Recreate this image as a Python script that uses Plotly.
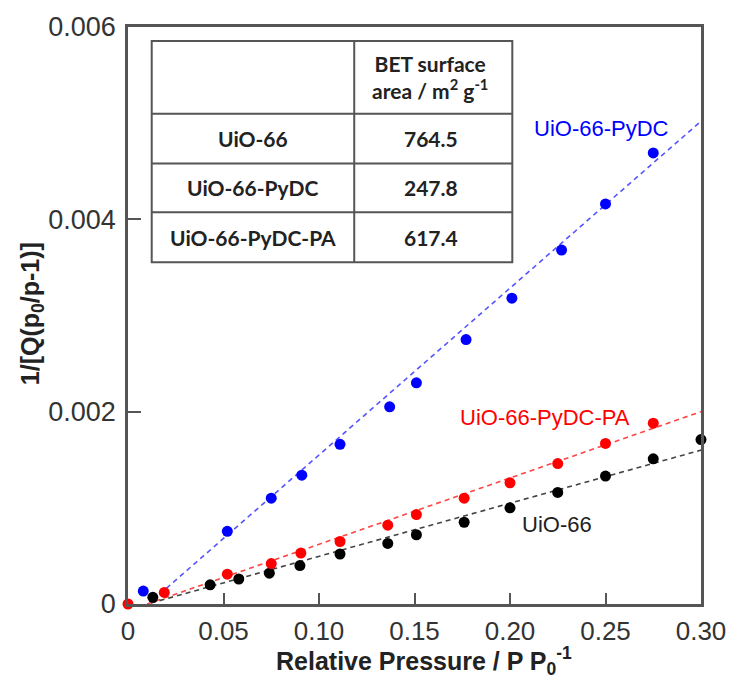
import plotly.graph_objects as go

# ---------------- data ----------------
pydc_x = [0.008, 0.052, 0.075, 0.091, 0.111, 0.137, 0.151, 0.177, 0.201, 0.227, 0.250, 0.275]
pydc_y = [0.000135, 0.000756, 0.00110, 0.00134, 0.00166, 0.00205, 0.00230, 0.00275, 0.00318, 0.00368, 0.00416, 0.00469]

pa_x = [0.0, 0.019, 0.052, 0.075, 0.0905, 0.111, 0.136, 0.151, 0.176, 0.200, 0.225, 0.250, 0.275]
pa_y = [0.0, 0.00012, 0.00031, 0.00042, 0.00053, 0.00065, 0.00082, 0.00093, 0.00110, 0.00126, 0.00146, 0.00167, 0.00188]

uio_x = [0.013, 0.043, 0.058, 0.074, 0.090, 0.111, 0.136, 0.151, 0.176, 0.200, 0.225, 0.250, 0.275, 0.300]
uio_y = [0.00007, 0.00020, 0.00026, 0.00032, 0.00040, 0.00052, 0.00063, 0.00072, 0.00085, 0.00100, 0.00116, 0.00133, 0.00151, 0.00171]

# fitted lines (end points)
pydc_fit_x = [0.013, 0.300]
pydc_fit_y = [0.00004, 0.00502]
pa_fit_x = [0.010, 0.300]
pa_fit_y = [0.0, 0.00200]
uio_fit_x = [0.012, 0.300]
uio_fit_y = [0.00001, 0.00160]

series_names = ["UiO-66", "UiO-66-PyDC", "UiO-66-PyDC-PA"]
bet_values = ["764.5", "247.8", "617.4"]
table_header = ["", "BET surface<br>area / m<sup>2</sup> g<sup>-1</sup>"]

x_tickvals = [0, 0.05, 0.10, 0.15, 0.20, 0.25, 0.30]
x_ticktext = ["0", "0.05", "0.10", "0.15", "0.20", "0.25", "0.30"]
y_tickvals = [0, 0.002, 0.004, 0.006]
y_ticktext = ["0", "0.002", "0.004", "0.006"]

# ---------------- figure ----------------
W, H = 738, 678
ML, MR, MT, MB = 128, 30, 25, 74
PW, PH = W - ML - MR, H - MT - MB


def px(xp):
    return (xp - ML) / PW


def py(yp):
    return (H - MB - yp) / PH


fig = go.Figure()

fit_style = [
    (pydc_fit_x, pydc_fit_y, "#5555ff"),
    (pa_fit_x, pa_fit_y, "#ff4444"),
    (uio_fit_x, uio_fit_y, "#444444"),
]
for fx, fy, c in fit_style:
    fig.add_trace(go.Scatter(x=fx, y=fy, mode="lines", showlegend=False,
                             line=dict(color=c, width=1.6, dash="5px,4px"),
                             hoverinfo="skip", cliponaxis=False))

for sx, sy, c, name in [(uio_x, uio_y, "#000000", series_names[0]),
                         (pa_x, pa_y, "#ff0000", series_names[2]),
                         (pydc_x, pydc_y, "#0000ff", series_names[1])]:
    fig.add_trace(go.Scatter(x=sx, y=sy, mode="markers", name=name, showlegend=False,
                             marker=dict(color=c, size=11), cliponaxis=False))

axis_common = dict(showgrid=False, zeroline=False, showline=True, mirror=True,
                   linecolor="#555555", linewidth=2.5, ticks="inside",
                   tickwidth=2, tickcolor="#555555")

fig.update_xaxes(range=[0, 0.30], tickvals=x_tickvals, ticktext=x_ticktext,
                 ticklen=11, ticklabelstandoff=2,
                 tickfont=dict(family="Liberation Sans, Arial", size=26, color="#333333"),
                 **axis_common)
fig.update_yaxes(range=[0, 0.006], tickvals=y_tickvals, ticktext=y_ticktext,
                 ticklen=13, ticklabelstandoff=4,
                 tickfont=dict(family="Liberation Sans, Arial", size=27, color="#333333"),
                 **axis_common)

annotations = []
# series labels
lab_font = dict(family="Liberation Sans, Arial", size=22)
annotations.append(dict(x=0.248, y=0.00494, xref="x", yref="y", text=series_names[1],
                        showarrow=False, font=dict(color="#0000ff", **lab_font)))
annotations.append(dict(x=0.2185, y=0.00194, xref="x", yref="y", text=series_names[2],
                        showarrow=False, font=dict(color="#ff0000", **lab_font)))
annotations.append(dict(x=0.2247, y=0.00083, xref="x", yref="y", text=series_names[0],
                        showarrow=False, font=dict(color="#222222", **lab_font)))

# axis titles
annotations.append(dict(x=px(428), y=py(661), xref="paper", yref="paper",
                        text="<b>Relative Pressure / P P<sub>0</sub><sup>-1</sup></b>",
                        showarrow=False, xanchor="center", yanchor="middle",
                        font=dict(family="Liberation Sans, Arial", size=25, color="#222222")))
annotations.append(dict(x=px(31), y=py(313), xref="paper", yref="paper",
                        text="<b>1/[Q(p<sub>0</sub>/p-1)]</b>", textangle=-90,
                        showarrow=False, xanchor="center", yanchor="middle",
                        font=dict(family="Liberation Sans, Arial", size=25, color="#222222")))

# table
tx0, tx1, tx2 = 152, 357, 517
ty = [39, 112, 162, 211, 261]
shapes = []
line_style = dict(color="#555555", width=2)
shapes.append(dict(type="rect", xref="paper", yref="paper", x0=px(tx0), x1=px(tx2),
                   y0=py(ty[0]), y1=py(ty[-1]), line=line_style, fillcolor="white", layer="above"))
shapes.append(dict(type="line", xref="paper", yref="paper", x0=px(tx1), x1=px(tx1),
                   y0=py(ty[0]), y1=py(ty[-1]), line=line_style, layer="above"))
for yy in ty[1:-1]:
    shapes.append(dict(type="line", xref="paper", yref="paper", x0=px(tx0), x1=px(tx2),
                       y0=py(yy), y1=py(yy), line=line_style, layer="above"))

tab_font = dict(family="Lato", size=21, color="#222222")
annotations.append(dict(x=px(434), y=py((ty[0] + ty[1]) / 2), xref="paper", yref="paper",
                        text="<b>" + table_header[1] + "</b>", showarrow=False,
                        xanchor="center", yanchor="middle", font=tab_font))
for i in range(3):
    yc = py((ty[i + 1] + ty[i + 2]) / 2)
    annotations.append(dict(x=px((tx0 + tx1) / 2), y=yc, xref="paper", yref="paper",
                            text="<b>" + series_names[i] + "</b>", showarrow=False,
                            xanchor="center", yanchor="middle", font=tab_font))
    annotations.append(dict(x=px(435), y=yc, xref="paper", yref="paper",
                            text="<b>" + bet_values[i] + "</b>", showarrow=False,
                            xanchor="center", yanchor="middle", font=tab_font))

fig.update_layout(width=W, height=H, margin=dict(l=ML, r=MR, t=MT, b=MB),
                  plot_bgcolor="white", paper_bgcolor="white",
                  annotations=annotations, shapes=shapes, showlegend=False)

fig.write_html("out.html", config={"displayModeBar": False},
               post_script="document.documentElement.style.overflow='hidden';"
                           "document.body.style.margin='0px';"
                           "document.body.style.overflow='hidden';")
